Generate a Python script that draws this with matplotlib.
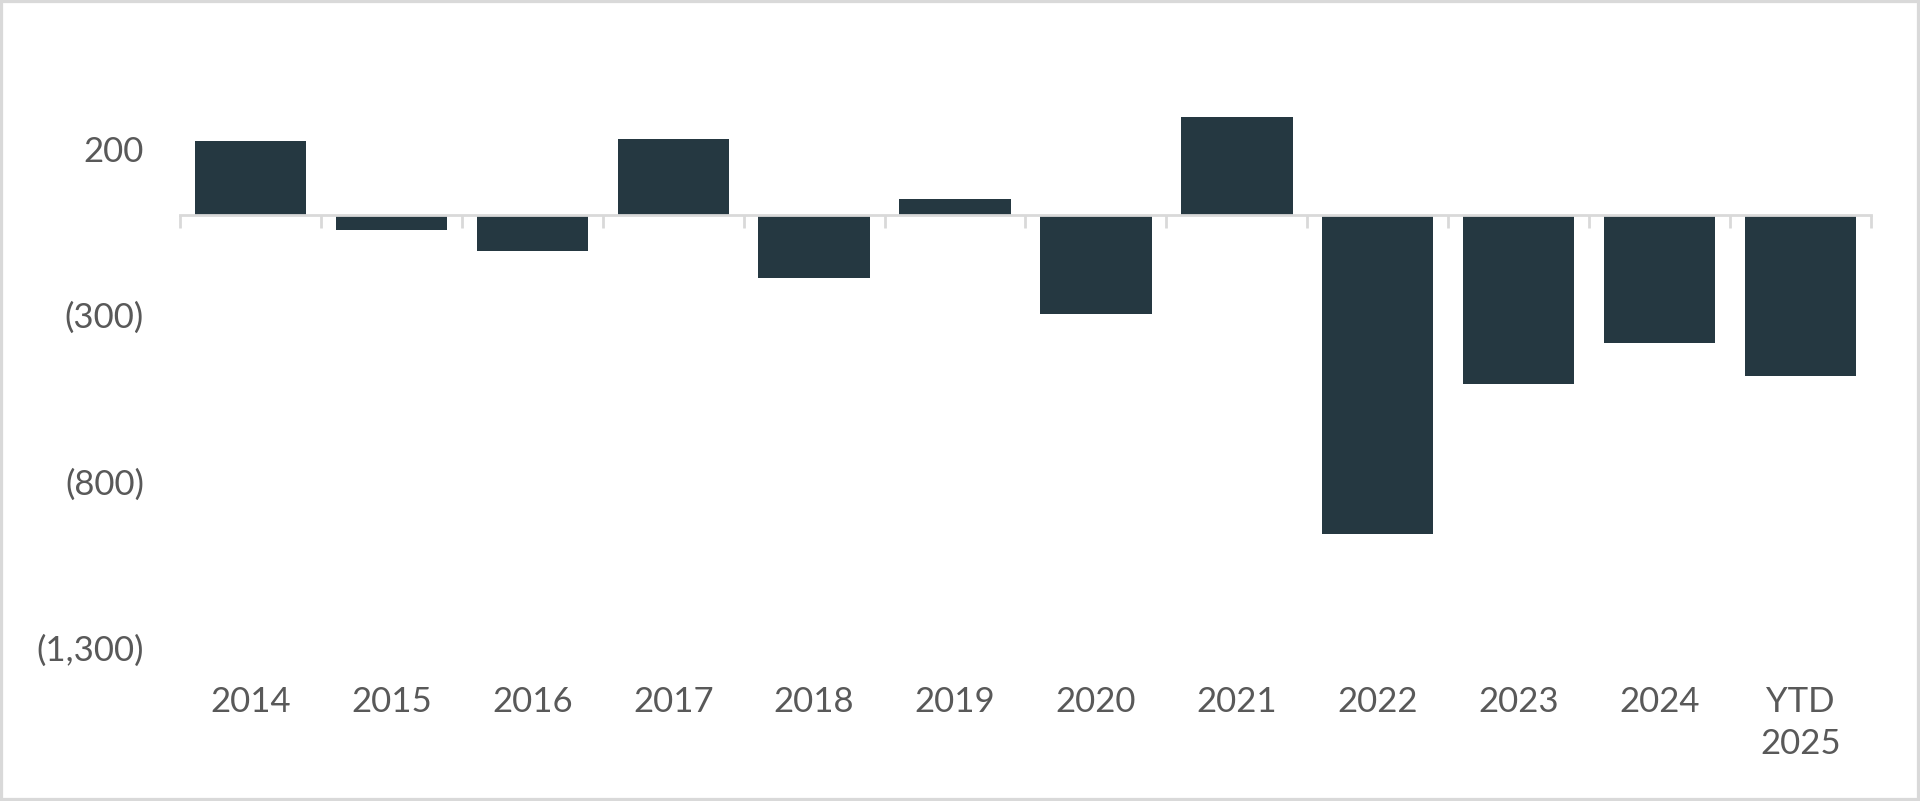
import matplotlib.pyplot as plt
import numpy as np
from matplotlib.patches import Rectangle
from matplotlib.ticker import FuncFormatter

# Data
categories = ["2014", "2015", "2016", "2017", "2018", "2019",
              "2020", "2021", "2022", "2023", "2024", "YTD\n2025"]
values = [224, -43, -106, 229, -188, 49, -298, 296, -959, -507, -385, -484]
y_ticks = [200, -300, -800, -1300]

bar_color = "#253841"
axis_gray = "#d9d9d9"
text_gray = "#595959"

plt.rcParams["font.family"] = ["Lato", "DejaVu Sans"]

fig = plt.figure(figsize=(19.2, 8.01), dpi=100)
ax = fig.add_axes([0.09375, 0.1915, 0.8807, 0.7763])

x = np.arange(len(categories))
ax.bar(x, values, width=0.79, color=bar_color, zorder=2)

ymin, ymax = -1300, 570
ax.set_xlim(-0.5, len(categories) - 0.5)
ax.set_ylim(ymin, ymax)

# y axis: labels only, negatives in parentheses
ax.set_yticks(y_ticks)
ax.yaxis.set_major_formatter(FuncFormatter(
    lambda v, p: f"({abs(v):,.0f})" if v < 0 else f"{v:,.0f}"))
ax.tick_params(axis="y", length=0, pad=26, labelsize=25, labelcolor=text_gray)

# category labels sit at the bottom of the plot
ax.set_xticks(x)
ax.set_xticklabels(categories)
ax.tick_params(axis="x", length=0, pad=28, labelsize=25, labelcolor=text_gray)
for t in ax.get_xticklabels():
    t.set_linespacing(1.35)

for s in ax.spines.values():
    s.set_visible(False)

# zero line with tick marks between categories, pointing down
zero_frac = (0 - ymin) / (ymax - ymin)
sec = ax.secondary_xaxis(zero_frac)
sec.set_alignment("bottom")
sec.set_xticks(np.arange(-0.5, len(categories), 1.0))
sec.tick_params(axis="x", direction="out", length=9.5, width=2,
                color=axis_gray, labelbottom=False, labeltop=False)
for s in sec.spines.values():
    s.set_color(axis_gray)
    s.set_linewidth(2)
sec.set_zorder(3)

# light frame around the whole chart
fig.patches.append(Rectangle((0, 0), 1, 1, transform=fig.transFigure,
                             fill=False, edgecolor=axis_gray, linewidth=4.5))

fig.savefig("out.png", dpi=100)
